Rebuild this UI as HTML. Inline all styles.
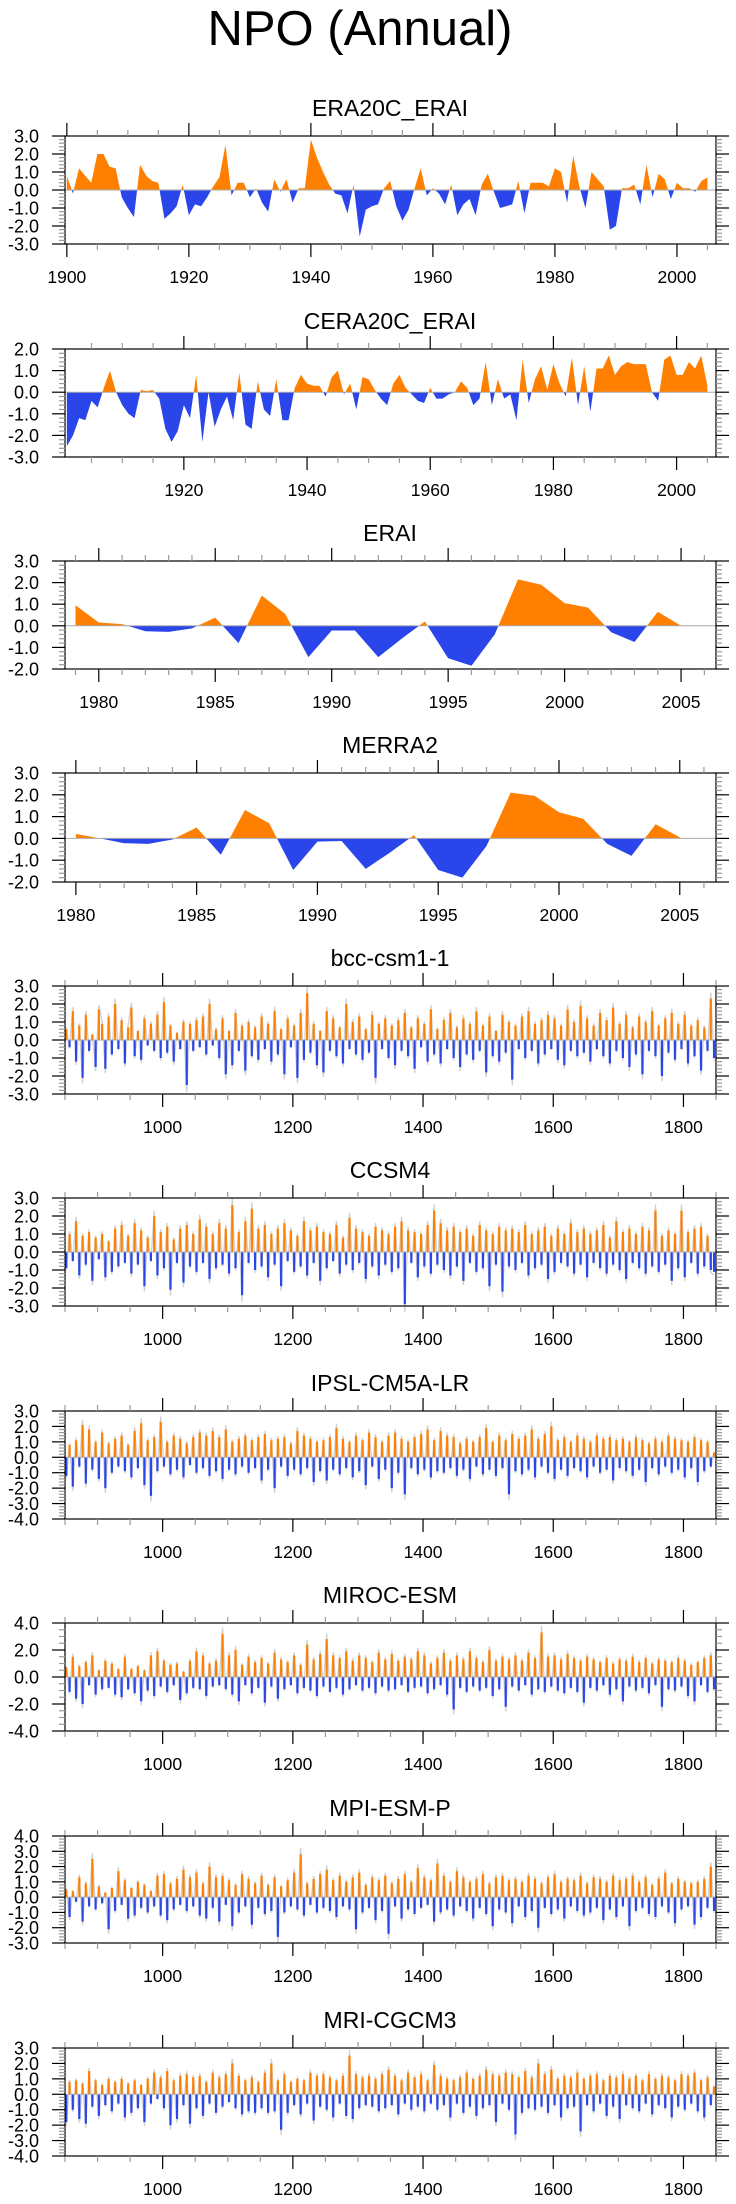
<!DOCTYPE html>
<html><head><meta charset="utf-8"><title>NPO (Annual)</title>
<style>
html,body{margin:0;padding:0;background:#fff;}
svg{display:block;font-family:"Liberation Sans",Arial,sans-serif;}
</style></head>
<body>
<svg id="fig" width="736" height="2204" viewBox="0 0 736 2204" xmlns="http://www.w3.org/2000/svg">
<text x="360" y="45" font-size="49" text-anchor="middle">NPO (Annual)</text>
</svg>
<script>
// ---- Reanalysis data ----
const era20cYears0 = 1900;
const era20cValues = [0.8,-0.2,1.2,0.8,0.4,2.0,2.0,1.3,1.2,-0.4,-1.0,-1.5,1.4,0.8,0.5,0.4,-1.6,-1.3,-0.9,0.3,-1.4,-0.8,-0.9,-0.4,0.2,0.7,2.5,-0.3,0.4,0.4,-0.4,0.1,-0.7,-1.2,0.6,-0.1,0.6,-0.7,0.1,0.1,2.8,1.8,1.0,0.3,-0.2,-0.3,-1.3,0.3,-2.6,-1.1,-0.9,-0.8,0.1,0.5,-0.9,-1.7,-1.1,0.1,1.2,-0.3,0.1,-0.2,-0.8,0.3,-1.4,-0.8,-0.5,-1.4,0.3,0.9,-0.1,-1.0,-0.9,-0.8,0.5,-1.3,0.4,0.4,0.4,0.2,1.2,1.0,-0.7,1.9,0.2,-1.0,1.0,0.6,0.2,-2.2,-2.0,0.1,0.1,0.3,-0.8,1.4,-0.4,0.9,0.6,-0.5,0.4,0.1,0.1,-0.1,0.5,0.7];
const cera20cYears0 = 1901;
const cera20cValues = [-2.5,-2.0,-1.2,-1.3,-0.4,-0.7,0.2,1.0,0.0,-0.6,-1.0,-1.2,0.1,0.05,0.1,-0.3,-1.7,-2.3,-1.8,-0.6,-1.2,0.8,-2.3,0.0,-1.6,-0.8,-0.2,-1.3,0.9,-1.5,-1.7,0.5,-0.8,-1.1,0.6,-1.3,-1.3,0.2,0.8,0.4,0.3,0.3,-0.2,0.7,1.0,-0.1,0.4,-0.8,0.7,0.6,0.1,-0.3,-0.6,0.4,0.8,0.2,-0.1,-0.4,-0.5,0.2,-0.3,-0.3,-0.1,0.0,0.5,0.2,-0.6,-0.3,1.4,-0.6,0.6,-0.3,-0.1,-1.3,1.5,-0.5,0.6,1.2,0.1,1.3,0.4,-0.2,1.6,-0.6,1.2,-0.9,1.1,1.1,1.7,0.8,1.2,1.4,1.3,1.3,1.3,0.0,-0.4,1.5,1.7,0.8,0.8,1.4,1.1,1.7,0.3];
const eraiYears0 = 1979;
const eraiValues = [0.95,0.15,0.08,-0.25,-0.28,-0.12,0.38,-0.8,1.4,0.55,-1.45,-0.22,-0.22,-1.45,-0.6,0.2,-1.5,-1.85,-0.4,2.15,1.9,1.05,0.85,-0.3,-0.75,0.65,0.0];
const merra2Years0 = 1980;
const merra2Values = [0.2,0.0,-0.22,-0.25,-0.05,0.5,-0.75,1.3,0.7,-1.45,-0.15,-0.12,-1.4,-0.65,0.15,-1.45,-1.8,-0.35,2.1,1.95,1.2,0.9,-0.25,-0.8,0.65,0.05];

// ---- Model data (5-year steps from 850) ----
const modelYear0 = 850;
const modelStep = 5;
const bccValues = [0.6,-0.4,1.6,-1.2,0.8,-2.1,1.4,-0.6,0.3,-1.5,1.7,0.9,-1.6,1.3,-0.8,2.0,-0.5,1.1,-1.3,0.7,
1.8,-0.9,0.5,-1.1,1.2,-0.3,0.9,-0.6,1.4,-1.0,2.1,-0.7,0.8,-1.2,0.4,-0.5,1.0,-2.5,0.9,-0.6,
1.1,-0.4,1.3,-0.8,2.0,-0.3,0.6,-1.0,1.2,-1.9,0.5,-1.4,1.5,-0.6,0.8,-1.7,1.0,-0.9,0.7,-1.1,
1.3,-0.5,0.9,-1.2,1.6,-0.8,0.6,-1.9,1.2,-0.4,0.8,-2.1,1.5,-1.1,2.6,-0.7,0.9,-1.4,0.5,-1.8,
1.6,-0.6,1.2,-0.9,0.7,-1.3,2.0,-0.5,1.0,-0.8,1.3,-1.1,0.6,-0.7,1.4,-2.1,0.9,-0.5,1.2,-1.0,
0.8,-1.4,1.1,-0.6,1.5,-0.9,0.7,-1.6,1.2,-0.4,0.9,-1.2,1.7,-0.8,0.6,-1.3,1.1,-0.5,1.5,-1.0,
0.7,-1.5,1.2,-0.8,0.9,-1.1,1.6,-0.6,0.8,-1.8,1.3,-0.9,0.5,-1.2,1.4,-0.7,1.0,-2.2,0.8,-0.5,
1.3,-1.0,1.6,-0.6,0.9,-1.3,1.1,-0.8,1.4,-0.5,1.2,-1.1,0.8,-1.4,1.7,-0.6,1.0,-0.9,1.9,-0.7,
1.2,-1.2,0.8,-0.5,1.5,-0.9,1.1,-1.3,1.8,-0.6,0.9,-1.0,1.4,-1.5,0.7,-0.8,1.3,-1.9,1.0,-0.6,
1.6,-0.9,0.8,-2.0,1.2,-0.7,1.5,-1.1,0.9,-0.5,1.4,-1.3,0.8,-0.9,1.1,-1.7,0.7,-0.6,2.3,-1.0];
const ccsmValues = [-0.9,1.0,-0.5,1.7,-1.3,0.9,-0.7,1.1,-1.6,0.8,-0.4,1.0,-1.4,0.6,-1.1,1.3,-0.8,1.5,-0.6,0.9,
-1.2,1.6,-0.7,1.2,-1.9,0.8,-0.5,2.0,-1.3,1.1,-0.9,1.4,-2.1,0.7,-0.6,1.3,-1.7,1.5,-0.8,1.0,
-1.1,1.8,-0.6,1.4,-1.5,1.0,-0.9,1.6,-0.7,1.3,-1.2,2.6,-0.9,1.1,-2.4,1.7,-0.6,2.4,-1.0,1.3,
-0.8,1.5,-1.4,1.0,-0.7,1.3,-1.9,1.6,-0.5,1.2,-1.1,0.9,-0.8,1.7,-1.3,1.2,-0.6,1.4,-1.6,1.1,
-0.9,1.0,-0.5,1.5,-1.2,0.8,-0.7,1.9,-1.0,1.3,-0.6,1.1,-1.5,0.9,-0.8,1.4,-1.3,1.2,-0.7,1.0,
-1.1,1.4,-0.9,1.7,-2.9,1.2,-0.6,1.1,-1.4,1.0,-0.8,1.5,-1.2,2.3,-0.7,1.6,-1.0,1.2,-1.3,1.4,
-0.8,1.1,-1.6,1.3,-0.6,0.9,-1.1,1.5,-0.9,1.2,-1.9,1.0,-0.7,1.4,-2.2,1.2,-0.8,1.3,-1.0,1.1,
-0.6,1.5,-1.3,1.0,-0.9,1.2,-0.7,1.4,-1.5,0.9,-1.1,1.3,-0.6,1.0,-0.8,1.6,-1.2,1.1,-0.7,1.3,
-1.4,1.0,-0.6,1.2,-0.9,1.5,-1.2,0.8,-0.7,1.7,-1.0,1.1,-1.5,1.3,-0.6,1.0,-0.9,1.4,-1.2,1.2,
-0.8,2.3,-1.1,0.9,-0.7,1.2,-1.6,1.0,-0.9,2.3,-1.4,1.1,-0.6,1.3,-1.2,1.4,-0.8,0.9,-1.0,-1.1];
const ipslValues = [-1.2,0.8,-1.9,1.1,-0.6,2.1,-1.7,1.8,-0.8,1.0,-1.4,1.6,-2.0,0.9,-1.0,1.2,-0.6,1.4,-0.9,0.8,
-1.3,1.7,-0.7,2.2,-1.8,1.1,-2.5,1.3,-0.9,2.3,-0.6,1.0,-1.1,1.4,-0.8,1.2,-1.3,0.9,-0.5,1.3,
-1.0,1.6,-0.7,1.4,-1.2,1.7,-0.9,1.3,-1.4,1.8,-0.8,1.0,-1.1,1.2,-0.6,1.4,-1.0,1.1,-0.7,1.3,
-1.5,1.5,-0.8,1.1,-2.0,1.2,-0.6,1.3,-1.2,0.9,-0.8,1.7,-1.1,1.4,-0.7,1.2,-1.6,1.0,-0.9,1.1,
-1.5,1.3,-0.8,1.9,-1.1,1.2,-0.7,1.0,-1.3,1.4,-0.9,1.1,-1.8,1.6,-0.6,1.3,-1.4,1.0,-0.8,1.4,
-2.0,1.6,-1.0,1.2,-2.4,1.0,-0.7,1.3,-1.1,1.5,-0.8,1.8,-1.3,1.1,-0.9,1.7,-1.0,1.4,-0.7,1.3,
-1.2,0.9,-0.8,1.2,-1.4,1.0,-0.6,1.3,-1.1,1.9,-0.8,1.0,-1.2,1.4,-0.7,1.1,-2.4,1.5,-0.9,1.2,
-1.1,1.4,-0.8,1.8,-1.3,1.2,-0.6,1.5,-1.0,2.0,-1.4,1.1,-0.8,1.3,-1.2,1.0,-0.7,1.4,-0.9,1.2,
-1.3,1.0,-0.6,1.4,-1.0,1.2,-0.8,1.3,-1.5,1.1,-0.7,1.2,-0.9,1.0,-1.2,1.3,-0.8,1.1,-1.6,0.9,
-0.7,1.2,-1.1,1.0,-0.6,1.4,-1.0,1.2,-0.8,1.1,-1.3,1.0,-0.7,1.3,-1.6,1.1,-0.9,1.0,-0.6,0.3];
const mirocValues = [0.7,-1.1,1.5,-1.6,0.8,-2.0,1.1,-0.6,1.6,-1.3,0.5,-0.9,1.2,-0.8,1.0,-1.3,0.6,-1.5,1.5,-0.9,
0.6,-1.2,0.8,-1.8,0.5,-1.0,1.6,-1.4,1.9,-0.7,1.2,-1.1,0.9,-0.6,1.0,-1.7,0.4,-1.2,1.2,-0.8,
1.9,-0.9,1.6,-1.4,1.0,-0.7,1.2,-0.6,3.2,-0.9,1.6,-1.3,2.0,-1.8,0.9,-0.6,1.5,-1.2,1.1,-0.8,
1.4,-1.9,1.0,-0.7,1.8,-1.6,1.3,-0.9,1.1,-0.6,1.6,-1.2,0.9,-0.8,2.4,-1.0,1.3,-1.4,1.7,-0.7,
2.8,-1.1,1.6,-0.8,1.4,-1.3,1.9,-0.9,1.2,-0.6,1.6,-1.0,1.4,-0.8,1.1,-1.2,1.8,-0.7,1.3,-1.0,
1.7,-0.9,1.2,-0.6,1.5,-1.1,1.3,-0.8,1.9,-0.7,1.6,-1.2,1.0,-0.9,1.4,-0.6,1.8,-1.3,1.2,-2.4,
1.6,-0.8,1.3,-1.1,1.9,-0.7,1.4,-1.0,1.1,-0.8,2.0,-1.4,1.2,-0.9,1.5,-2.2,1.3,-0.7,1.6,-1.0,
1.2,-0.6,1.8,-1.3,1.4,-0.9,3.3,-1.1,1.5,-0.7,1.6,-1.0,1.3,-1.2,1.7,-0.8,1.4,-1.1,1.2,-1.9,
1.5,-0.8,1.3,-1.0,1.1,-0.6,1.4,-1.3,1.0,-0.9,1.3,-1.8,1.2,-0.7,1.5,-1.0,1.1,-0.8,1.4,-1.2,
1.0,-0.6,1.3,-2.2,1.2,-0.9,1.1,-1.0,1.4,-0.7,1.2,-1.4,0.9,-1.8,1.1,-0.6,1.4,-1.1,1.6,-0.9];
const mpiValues = [0.5,-1.3,0.4,-0.3,1.3,-1.6,0.9,-0.6,2.5,-0.8,0.7,-0.4,0.3,-2.1,0.6,-0.9,1.7,-0.5,1.1,-1.4,
0.6,-1.2,1.0,-0.7,0.8,-1.0,0.4,-0.6,1.4,-1.2,1.5,-1.5,0.9,-0.8,1.2,-0.5,1.8,-0.9,1.3,-0.6,
1.6,-1.2,0.9,-1.4,2.0,-0.7,1.3,-1.6,1.4,-0.5,1.1,-1.9,0.8,-1.0,1.5,-0.6,1.2,-1.8,0.9,-0.7,
1.4,-1.1,0.8,-0.9,1.3,-2.6,0.7,-1.0,1.1,-0.6,1.6,-0.8,2.8,-1.2,0.9,-0.5,1.2,-1.0,1.5,-0.7,
1.8,-0.9,1.1,-1.3,1.4,-0.6,1.0,-0.8,1.3,-2.1,1.6,-1.0,0.8,-0.7,1.3,-1.5,1.1,-0.9,1.4,-2.4,
0.9,-0.6,1.2,-1.4,1.5,-0.8,1.0,-1.1,1.9,-0.7,1.3,-0.5,1.1,-1.6,2.2,-1.0,1.4,-0.8,1.0,-1.2,
1.7,-0.6,1.3,-0.9,1.0,-1.4,1.2,-0.7,1.5,-1.1,0.9,-1.9,1.3,-0.8,1.4,-1.0,1.1,-1.7,1.2,-0.6,
1.0,-1.3,1.4,-0.9,1.2,-2.0,0.9,-0.7,1.3,-1.1,1.5,-0.8,1.0,-1.4,1.2,-0.6,1.1,-0.9,1.4,-1.2,
0.9,-1.0,1.3,-0.7,1.2,-1.5,1.0,-0.8,1.4,-1.3,1.1,-0.6,1.2,-1.9,1.4,-0.9,1.0,-0.7,1.3,-1.1,
0.8,-1.3,1.2,-0.6,1.6,-1.0,0.9,-1.7,1.2,-0.8,1.0,-0.6,0.9,-1.8,1.0,-1.3,1.2,-0.7,2.0,-0.9];
const mriValues = [-1.8,0.8,-1.0,0.9,-1.6,0.7,-1.9,1.5,-0.8,0.9,-1.4,0.6,-0.7,1.0,-1.1,0.8,-0.6,1.0,-1.5,0.7,
-1.2,0.9,-0.9,0.6,-1.8,1.0,-0.6,1.4,-0.3,1.1,-0.9,1.5,-2.0,0.9,-1.6,1.2,-0.7,1.3,-1.9,1.1,
-0.9,1.2,-1.4,0.8,-0.6,1.4,-1.2,1.1,-0.8,1.3,-0.5,2.0,-0.9,1.2,-1.3,0.9,-1.1,1.1,-1.2,0.8,
-0.9,1.4,-1.2,2.0,-1.1,0.9,-2.3,1.3,-1.2,0.8,-0.7,1.0,-1.3,0.9,-0.6,1.4,-1.7,1.2,-0.8,1.3,
-1.0,1.1,-1.5,0.9,-0.6,1.2,-1.4,2.5,-1.6,1.3,-0.9,1.1,-0.7,1.2,-0.8,1.0,-1.1,1.3,-0.9,1.6,
-0.7,1.2,-1.3,0.9,-0.6,1.4,-1.0,1.1,-0.8,1.3,-1.1,0.9,-0.6,1.9,-1.0,1.2,-0.7,1.0,-1.5,0.9,
-0.6,1.1,-1.2,1.4,-0.8,1.0,-1.4,1.2,-0.9,1.6,-0.7,1.3,-1.8,1.2,-0.6,1.4,-1.0,1.3,-2.6,1.1,
-1.2,1.5,-0.9,1.1,-1.0,2.0,-0.8,1.3,-1.2,1.6,-0.7,1.0,-1.5,1.2,-0.9,1.1,-0.8,1.4,-2.4,1.0,
-0.7,1.2,-1.1,1.3,-0.6,0.9,-1.4,1.2,-0.8,1.1,-1.6,1.3,-0.7,1.0,-0.9,1.2,-1.1,0.9,-0.6,1.3,
-1.3,1.0,-0.7,1.2,-0.9,1.1,-1.5,0.9,-0.8,1.3,-1.0,1.2,-0.6,1.4,-1.1,0.9,-1.5,1.1,-0.7,0.5];

const SVGNS = "http://www.w3.org/2000/svg";
const svg = document.getElementById('fig');
const L = 65, R = 716;
const ORANGE = "#ff8000", BLUE = "#2a45ea";

function mk(tag, attrs, parent){
  const e = document.createElementNS(SVGNS, tag);
  for (const k in attrs) e.setAttribute(k, attrs[k]);
  (parent||svg).appendChild(e);
  return e;
}

const panels = [
 {name:"era20c-erai", title:"ERA20C_ERAI", top:136, bot:244, ymin:-3, ymax:3, yMaj:1, yMin:0.2, x0:1899.7, x1:2006.4, xMaj:20, xMin:5, xLab:1900, start:era20cYears0, vals:era20cValues, kind:"area"},
 {name:"cera20c-erai", title:"CERA20C_ERAI", top:349, bot:457, ymin:-3, ymax:2, yMaj:1, yMin:0.2, x0:1900.7, x1:2006.4, xMaj:20, xMin:5, xLab:1920, start:cera20cYears0, vals:cera20cValues, kind:"area"},
 {name:"erai", title:"ERAI", top:561, bot:669, ymin:-2, ymax:3, yMaj:1, yMin:0.2, x0:1978.55, x1:2006.5, xMaj:5, xMin:1, xLab:1980, start:eraiYears0, vals:eraiValues, kind:"area"},
 {name:"merra2", title:"MERRA2", top:773, bot:882, ymin:-2, ymax:3, yMaj:1, yMin:0.2, x0:1979.55, x1:2006.5, xMaj:5, xMin:1, xLab:1980, start:merra2Years0, vals:merra2Values, kind:"area"},
 {name:"bcc-csm1-1", title:"bcc-csm1-1", top:986, bot:1094, ymin:-3, ymax:3, yMaj:1, yMin:0.2, x0:850, x1:1850, xMaj:200, xMin:50, xLab:1000, start:modelYear0, vals:bccValues, kind:"bar"},
 {name:"ccsm4", title:"CCSM4", top:1198, bot:1306, ymin:-3, ymax:3, yMaj:1, yMin:0.2, x0:850, x1:1850, xMaj:200, xMin:50, xLab:1000, start:modelYear0, vals:ccsmValues, kind:"bar"},
 {name:"ipsl-cm5a-lr", title:"IPSL-CM5A-LR", top:1411, bot:1519, ymin:-4, ymax:3, yMaj:1, yMin:0.2, x0:850, x1:1850, xMaj:200, xMin:50, xLab:1000, start:modelYear0, vals:ipslValues, kind:"bar"},
 {name:"miroc-esm", title:"MIROC-ESM", top:1623, bot:1731, ymin:-4, ymax:4, yMaj:2, yMin:0.5, x0:850, x1:1850, xMaj:200, xMin:50, xLab:1000, start:modelYear0, vals:mirocValues, kind:"bar"},
 {name:"mpi-esm-p", title:"MPI-ESM-P", top:1836, bot:1943, ymin:-3, ymax:4, yMaj:1, yMin:0.2, x0:850, x1:1850, xMaj:200, xMin:50, xLab:1000, start:modelYear0, vals:mpiValues, kind:"bar"},
 {name:"mri-cgcm3", title:"MRI-CGCM3", top:2048, bot:2156, ymin:-4, ymax:3, yMaj:1, yMin:0.2, x0:850, x1:1850, xMaj:200, xMin:50, xLab:1000, start:modelYear0, vals:mriValues, kind:"bar"}
];

panels.forEach((p, pi) => {
  const g = mk('g', {});
  
  
  const xs = y => L + (y - p.x0) / (p.x1 - p.x0) * (R - L);
  const ys = v => p.bot - (v - p.ymin) / (p.ymax - p.ymin) * (p.bot - p.top);
  const t = mk('text', {x:390, y:p.top - 20, 'font-size':23, 'text-anchor':'middle'}, g);
  
  
  t.textContent = p.title;

  const cid = 'clip' + pi;
  const defs = mk('defs', {}, g);
  const y0 = ys(0);
  const c1 = mk('clipPath', {id: cid + 'a'}, defs);
  mk('rect', {x:L, y:p.top, width:R-L, height:y0-p.top}, c1);
  const c2 = mk('clipPath', {id: cid + 'b'}, defs);
  mk('rect', {x:L, y:y0, width:R-L, height:p.bot-y0}, c2);

  const series = mk('g', {}, g);
  
  
  if (p.kind === 'area') {
    let d = 'M' + xs(p.start).toFixed(2) + ',' + y0.toFixed(2);
    p.vals.forEach((v, i) => { d += ' L' + xs(p.start + i).toFixed(2) + ',' + ys(v).toFixed(2); });
    d += ' L' + xs(p.start + p.vals.length - 1).toFixed(2) + ',' + y0.toFixed(2) + ' Z';
    const a1 = mk('path', {d:d, fill:ORANGE, 'clip-path':'url(#' + cid + 'a)'}, series);
    
    
    const a2 = mk('path', {d:d, fill:BLUE, 'clip-path':'url(#' + cid + 'b)'}, series);
    
    
  } else {
    let d = '';
    p.vals.forEach((v, i) => {
      const yy = p.start + i * modelStep;
      d += (i ? ' L' : 'M') + xs(yy + 2).toFixed(2) + ',' + ys(v * 1.15).toFixed(2);
    });
    const gl = mk('path', {d:d, fill:'none', stroke:'#d0d0d0', 'stroke-width':1.3}, series);
    
    
    p.vals.forEach((v, i) => {
      const yy = p.start + i * modelStep;
      const x = xs(yy + 2);
      const yv = ys(v);
      const b = mk('rect', {x:(x - 1.1).toFixed(2), y:Math.min(yv, y0).toFixed(2), width:2.2, height:Math.abs(yv - y0).toFixed(2), fill: v >= 0 ? ORANGE : BLUE}, series);
      
      
    });
  }
  const zl = mk('line', {x1:L, x2:R, y1:y0, y2:y0, stroke:'#aaaaaa', 'stroke-width':1}, g);
  
  

  const fr = mk('rect', {x:L, y:p.top, width:R-L, height:p.bot-p.top, fill:'none', stroke:'#000', 'stroke-width':1.2}, g);
  
  

  const xa = mk('g', {}, g);
  
  
  const firstMin = Math.ceil(p.x0 / p.xMin - 1e-6) * p.xMin;
  for (let yr = firstMin; yr <= p.x1 + 1e-6; yr += p.xMin) {
    const x = xs(yr);
    const major = Math.abs(yr / p.xMaj - Math.round(yr / p.xMaj)) < 1e-6;
    const len = major ? 13 : 6;
    const col = major ? '#000' : '#999';
    mk('line', {x1:x, x2:x, y1:p.top, y2:p.top - len, stroke:col, 'stroke-width':1.2}, xa);
    mk('line', {x1:x, x2:x, y1:p.bot, y2:p.bot + len, stroke:col, 'stroke-width':1.2}, xa);
    if (major && yr >= p.xLab) {
      const tl = mk('text', {x:x, y:p.bot + 39, 'font-size':17.5, 'text-anchor':'middle'}, xa);
      
      
      tl.textContent = String(yr);
    }
  }
  const ya = mk('g', {}, g);
  
  
  const nMin = Math.round((p.ymax - p.ymin) / p.yMin);
  for (let k = 0; k <= nMin; k++) {
    const v = p.ymin + k * p.yMin;
    const y = ys(v);
    const major = Math.abs(v / p.yMaj - Math.round(v / p.yMaj)) < 1e-6;
    const len = major ? 13 : 6;
    const col = major ? '#000' : '#999';
    mk('line', {x1:L, x2:L - len, y1:y, y2:y, stroke:col, 'stroke-width':1.2}, ya);
    mk('line', {x1:R, x2:R + len, y1:y, y2:y, stroke:col, 'stroke-width':1.2}, ya);
    if (major) {
      const tl = mk('text', {x:39, y:y + 6.5, 'font-size':18, 'text-anchor':'end'}, ya);
      
      
      tl.textContent = (Math.abs(v) < 1e-9 ? 0 : v).toFixed(1);
    }
  }
});
</script>
</body></html>
